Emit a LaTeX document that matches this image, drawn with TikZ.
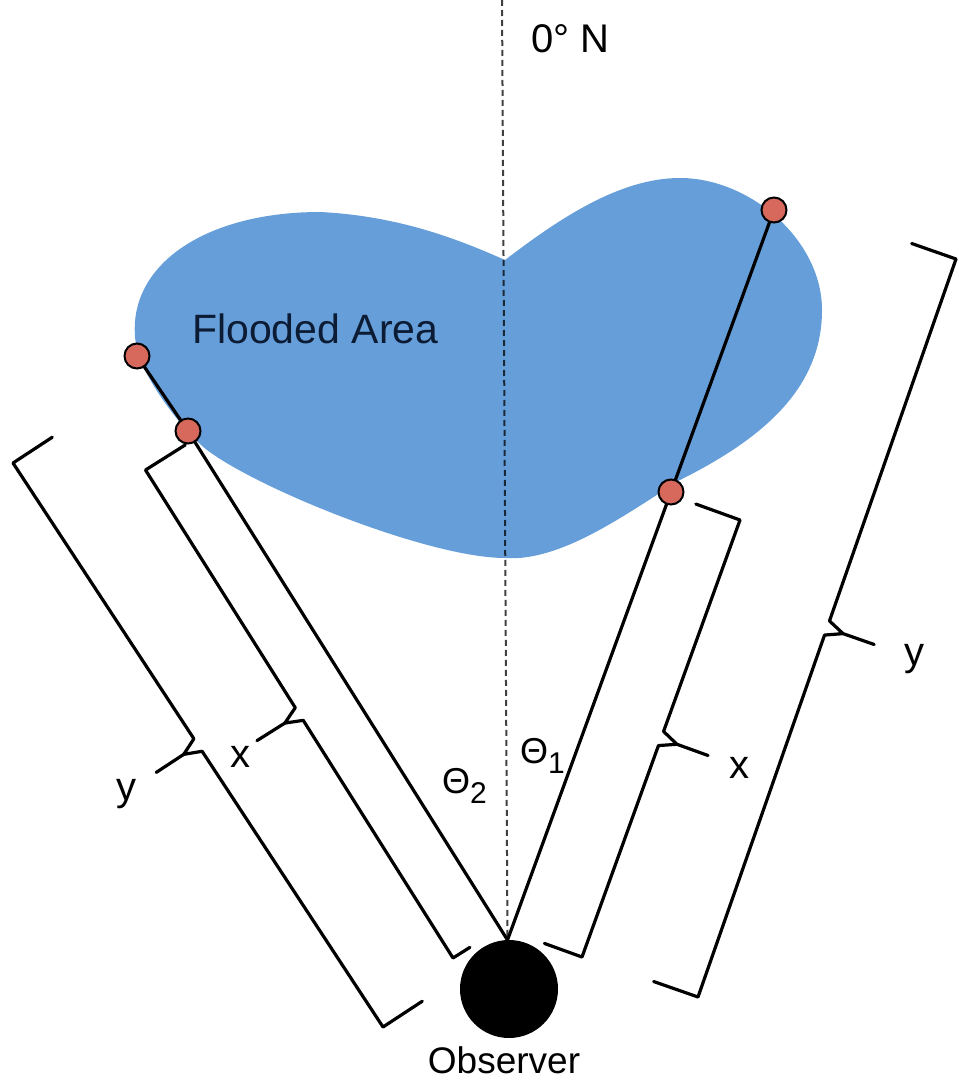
\documentclass[tikz,border=0pt]{standalone}
\usepackage{fontspec}
\setmainfont{Liberation Sans}
\usetikzlibrary{calc}
\definecolor{flood}{RGB}{102,158,218}
\definecolor{dotred}{RGB}{214,104,92}
\definecolor{navytext}{RGB}{12,28,52}

% #1 name, #2 bottom corner, #3 top corner, #4 outward angle, #5 inward angle at bottom, #6 bottom tick length
\newcommand{\bracemark}[6]{%
  \coordinate (#1B) at #2;
  \coordinate (#1T) at #3;
  \coordinate (#1M) at ($(#1B)!0.5!(#1T)$);
  \coordinate (#1Bt) at ($(#1B)!#6!#5:(#1T)$);
  \coordinate (#1Tt) at ($(#1T)!47pt!#4:(#1B)$);
  \coordinate (#1c1) at ($(#1M)!7.5pt!(#1T)$);
  \coordinate (#1c2) at ($(#1M)!7.5pt!(#1B)$);
  \coordinate (#1m) at ($(#1M)!17pt!#4:(#1T)$);
  \coordinate (#1tip) at ($(#1M)!50pt!#4:(#1T)$);
  \draw[bracestyle] (#1Bt) -- (#1B) -- (#1c2) -- (#1m) -- (#1c1) -- (#1T) -- (#1Tt);
  \draw[bracestyle] (#1m) -- (#1tip);
}

\begin{document}
\begin{tikzpicture}[x=1pt,y=-1pt,
  ray/.style={line width=3.2pt, line join=round},
  bracestyle/.style={line width=3.2pt, line join=round, line cap=round},
  reddot/.style={circle, draw=black, line width=2pt, fill=dotred, minimum size=25pt, inner sep=0pt},
  lbl/.style={inner sep=0pt, anchor=base, font=\fontsize{40}{44}\selectfont},
  northline/.style={draw=black, draw opacity=0.75, line width=2pt, dash pattern=on 6pt off 4pt}]
\useasboundingbox (0,0) rectangle (958,1086);

% flooded area
\fill[flood] (505,260)
  .. controls (560,218) and (620,178) .. (680,178)
  .. controls (750,178) and (822,240) .. (822,310)
  .. controls (822,390) and (760,440) .. (680,480)
  .. controls (625,515) and (560,562) .. (505,558)
  .. controls (430,558) and (260,490) .. (207,450)
  .. controls (182,430) and (145,380) .. (137,350)
  .. controls (120,270) and (200,212) .. (320,212)
  .. controls (400,216) and (460,240) .. (505,260) -- cycle;

% coordinates
\coordinate (A) at (507.5,940);
\coordinate (Ntop) at (502,0);
\coordinate (L1) at (188,431);
\coordinate (L2) at (137,356);
\coordinate (R1) at (671,492);
\coordinate (R2) at (774,210);

% north line
\draw[northline] (Ntop) -- (A);

% sight lines
\draw[ray] (A) -- (L1) -- (L2);
\draw[ray] (A) -- (R1) -- (R2);

% brackets
\bracemark{li}{(453,958)}{(145.5,470)}{90}{-90}{20pt}
\bracemark{lo}{(383,1027)}{(13,463)}{90}{-90}{47pt}
\bracemark{ri}{(582,957)}{(740,520)}{-90}{90}{40pt}
\bracemark{ro}{(698,997)}{(956,259)}{-90}{90}{47pt}

% observer
\node[circle, fill=black, minimum size=98pt, inner sep=0pt] (obs) at (509,989) {};

% dots
\node[reddot] (dL1) at (L1) {};
\node[reddot] (dL2) at (L2) {};
\node[reddot] (dR1) at (R1) {};
\node[reddot] (dR2) at (R2) {};

% labels
\node[inner sep=0pt, anchor=base west, text=navytext, font=\fontsize{41}{46}\selectfont] (flood) at (192,343) {Flooded Area};
\node[inner sep=0pt, anchor=base west, font=\fontsize{40}{44}\selectfont] (north) at (531,53) {0° N};
\node[lbl, font=\fontsize{37}{40}\selectfont] (obslbl) at (504,1073) {Observer};
\node[lbl] (xl) at (240,767) {x};
\node[lbl] (xr) at (739,778) {x};
\node[lbl] (yl) at (126,800) {y};
\node[lbl] (yr) at (914,665) {y};
\node[inner sep=0pt, anchor=base west, font=\fontsize{36}{40}\selectfont] (th2) at (442,793) {Θ\raisebox{-10pt}{\fontsize{30}{32}\selectfont 2}};
\node[inner sep=0pt, anchor=base west, font=\fontsize{36}{40}\selectfont] (th1) at (520,763) {Θ\raisebox{-10pt}{\fontsize{30}{32}\selectfont 1}};
\end{tikzpicture}
\end{document}
